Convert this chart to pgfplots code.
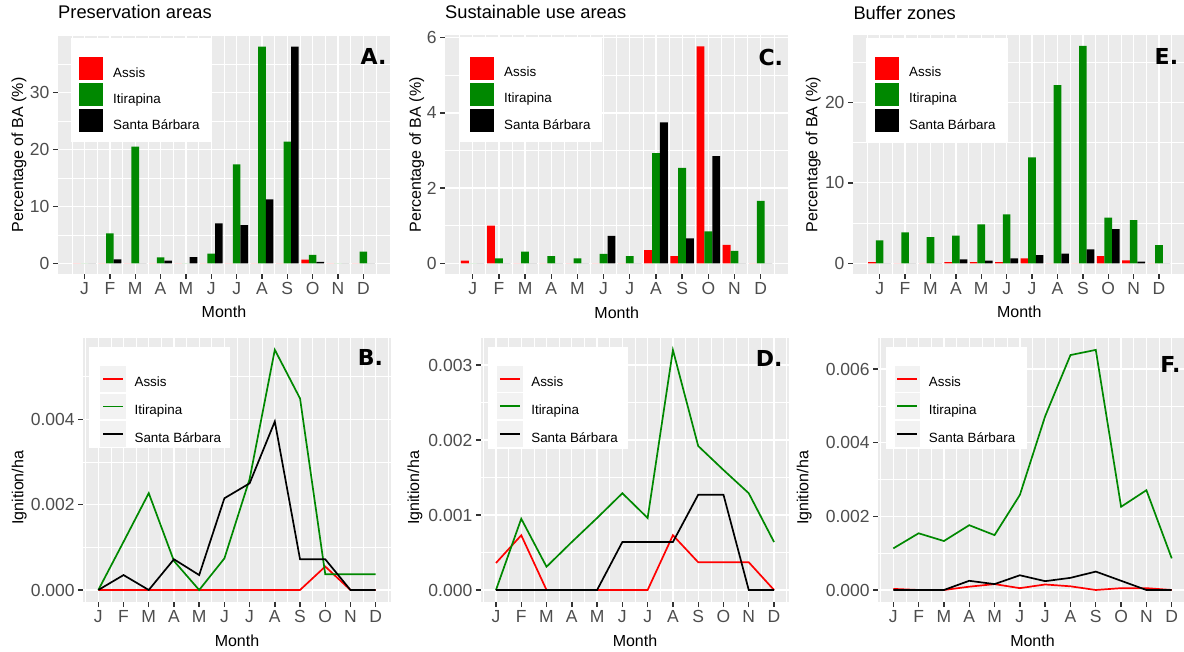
\documentclass[border=0pt]{standalone}
\usepackage{fontspec}
\setmainfont{Liberation Sans}
\newfontfamily\panelfont{DejaVu Sans}
\usepackage{pgfplots}
\usepackage{pgfplotstable}
\pgfplotsset{compat=1.18}
\definecolor{ggbg}{HTML}{EBEBEB}
\definecolor{ggkey}{HTML}{F2F2F2}
\definecolor{ggtext}{HTML}{4D4D4D}
\definecolor{ggtick}{HTML}{333333}
\definecolor{ggred}{HTML}{FF0000}
\definecolor{gggreen}{HTML}{008800}
\definecolor{ggblack}{HTML}{000000}

% Percentage of burned area (bars)
\pgfplotstableread{
m r g b
1 0 0 0
2 0 5.27 0.7
3 0 20.5 0
4 0 1.05 0.46
5 0 0 1.1
6 0 1.7 7.0
7 0 17.4 6.7
8 0 38.1 11.25
9 0 21.4 38.1
10 0.65 1.46 0.23
11 0 0 0
12 0 2.04 0
}\tabA
\pgfplotstableread{
m r g b
1 0.07 0 0
2 1.0 0.13 0
3 0 0.31 0
4 0 0.19 0
5 0 0.13 0
6 0 0.25 0.73
7 0 0.19 0
8 0.35 2.93 3.75
9 0.19 2.54 0.66
10 5.77 0.85 2.85
11 0.49 0.33 0
12 0 1.66 0
}\tabC
\pgfplotstableread{
m r g b
1 0.16 2.85 0
2 0 3.85 0
3 0 3.27 0
4 0.16 3.43 0.5
5 0.16 4.84 0.33
6 0.16 6.09 0.62
7 0.62 13.17 1.03
8 0 22.15 1.2
9 0 27.0 1.74
10 0.91 5.67 4.26
11 0.37 5.38 0.2
12 0 2.27 0
}\tabE
% Ignitions per hectare (lines)
\pgfplotstableread{
m r g b
1 0 0 0
2 0 0.00113 0.00035
3 0 0.00227 0
4 0 0.00068 0.00072
5 0 0 0.00035
6 0 0.00074 0.00215
7 0 0.0026 0.0025
8 0 0.00563 0.00395
9 0 0.00449 0.00072
10 0.00055 0.00037 0.00072
11 0 0.00037 0
12 0 0.00037 0
}\tabB
\pgfplotstableread{
m r g b
1 0.00036 0 0
2 0.00073 0.00095 0
3 0 0.00031 0
4 0 0.00064 0
5 0 0.00096 0
6 0 0.00129 0.00064
7 0 0.00096 0.00064
8 0.00073 0.0032 0.00064
9 0.00037 0.00192 0.00127
10 0.00037 0.0016 0.00127
11 0.00037 0.00129 0
12 0 0.00064 0
}\tabD
\pgfplotstableread{
m r g b
1 0.00003 0.00113 0
2 0 0.00154 0
3 0 0.00133 0
4 0.00009 0.00176 0.00025
5 0.00016 0.00149 0.00016
6 0.00005 0.00258 0.0004
7 0.00015 0.00472 0.00024
8 0.0001 0.00638 0.00033
9 0 0.00652 0.0005
10 0.00005 0.00226 0.00025
11 0.00005 0.00271 0
12 0 0.00086 0
}\tabF

\pgfplotsset{
  gg/.style={
    scale only axis,
    axis background/.style={fill=ggbg},
    axis line style={draw opacity=0},
    tick pos=left,
    tick align=outside,
    major tick length=5pt,
    minor tick length=0pt,
    every major tick/.append style={draw=ggtick, draw opacity=1, line width=1.4pt},
    grid=both,
    major grid style={draw=white, line width=1.3pt},
    minor grid style={draw=white, line width=0.6pt},
    xtick={1,2,...,12},
    xticklabels={J,F,M,A,M,J,J,A,S,O,N,D},
    minor xtick={0.5,1.5,...,12.5},
    scaled y ticks=false,
    xticklabel style={font=\fontsize{17.5}{18}\selectfont, text=ggtext},
    yticklabel style={font=\fontsize{17.5}{18}\selectfont, text=ggtext},
    xlabel style={font=\fontsize{16}{16}\selectfont, anchor=base, inner sep=0pt},
    ylabel style={font=\fontsize{16}{16}\selectfont, anchor=center, inner sep=0pt},
    title style={font=\fontsize{18.3}{18}\selectfont, anchor=base west, inner sep=0pt},
    legend cell align=left,
  },
  bars/.style={gg, xmin=-0.05, xmax=13.05,
    legend style={anchor=north west, draw=none, fill=none, inner sep=0pt,
      row sep=3pt, column sep=10pt, nodes={inner sep=0pt},
      font=\fontsize{13.4}{14}\selectfont}},
  lines/.style={gg, xmin=0.4, xmax=12.6,
    legend style={anchor=north west, draw=none, fill=none, inner sep=0pt,
      row sep=1.8pt, column sep=8.7pt, nodes={inner sep=0pt},
      font=\fontsize{13.4}{14}\selectfont}},
  barkey/.style={legend image code/.code={\fill[##1] (0pt,-7pt) rectangle (24pt,16pt);}},
  linekey/.style={legend image code/.code={\fill[ggkey] (0pt,-8pt) rectangle (24pt,16pt); \draw[##1] (2pt,4pt) -- (22pt,4pt);}},
}
\newcommand{\panellabel}[3]{\node[anchor=base east, inner sep=0pt, font=\panelfont\bfseries\fontsize{22}{22}\selectfont] at (rel axis cs:#1,#2) {#3};}

\begin{document}
\begin{tikzpicture}
\path[use as bounding box] (0pt,0pt) rectangle (1184pt,651pt);

% ---------- A ----------
\begin{axis}[bars, at={(57.9pt,376.9pt)}, anchor=south west, width=332.1pt, height=238.3pt,
  ymin=-1.905, ymax=40.0, ytick={0,10,20,30}, yticklabels={0,10,20,30}, minor ytick={5,15,25,35},
  title={Preservation areas}, title style={at={(axis description cs:0.0003,1.0453)}},
  xlabel={Month}, xlabel style={at={(axis description cs:0.5,-0.1842)}},
  ylabel={Percentage of BA (\%)}, ylabel style={at={(axis description cs:-0.1171,0.5)}},
  legend style={at={(rel axis cs:0.0635,0.9123)}}]
\addplot[ybar, bar width=0.3, bar shift=-0.3, fill=ggred, draw=none, barkey] table[x=m,y=r]{\tabA};
\addplot[ybar, bar width=0.3, bar shift=0, fill=gggreen, draw=none, barkey] table[x=m,y=g]{\tabA};
\addplot[ybar, bar width=0.3, bar shift=0.3, fill=ggblack, draw=none, barkey] table[x=m,y=b]{\tabA};
\fill[white] (rel axis cs:0.0385,0.5556) rectangle (rel axis cs:0.4631,0.9895);
\panellabel{0.9901}{0.8775}{A.}
\legend{Assis,Itirapina,Santa Bárbara}
\end{axis}

% ---------- C ----------
\begin{axis}[bars, at={(445.2pt,376.9pt)}, anchor=south west, width=343pt, height=238.6pt,
  ymin=-0.2885, ymax=6.0585, ytick={0,2,4,6}, yticklabels={0,2,4,6}, minor ytick={1,3,5},
  title={Sustainable use areas}, title style={at={(axis description cs:-0.0006,1.044)}},
  xlabel={Month}, xlabel style={at={(axis description cs:0.5,-0.184)}},
  ylabel={Percentage of BA (\%)}, ylabel style={at={(axis description cs:-0.0831,0.5)}},
  legend style={at={(rel axis cs:0.0723,0.9112)}}]
\addplot[ybar, bar width=0.3, bar shift=-0.3, fill=ggred, draw=none, barkey] table[x=m,y=r]{\tabC};
\addplot[ybar, bar width=0.3, bar shift=0, fill=gggreen, draw=none, barkey] table[x=m,y=g]{\tabC};
\addplot[ybar, bar width=0.3, bar shift=0.3, fill=ggblack, draw=none, barkey] table[x=m,y=b]{\tabC};
\fill[white] (rel axis cs:0.0431,0.5549) rectangle (rel axis cs:0.4563,0.995);
\panellabel{0.9857}{0.8761}{C.}
\legend{Assis,Itirapina,Santa Bárbara}
\end{axis}

% ---------- E ----------
\begin{axis}[bars, at={(853pt,376.8pt)}, anchor=south west, width=332.7pt, height=239.1pt,
  ymin=-1.35, ymax=28.35, ytick={0,10,20}, yticklabels={0,10,20}, minor ytick={5,15,25},
  title={Buffer zones}, title style={at={(axis description cs:0.0009,1.0422)}},
  xlabel={Month}, xlabel style={at={(axis description cs:0.5,-0.1832)}},
  ylabel={Percentage of BA (\%)}, ylabel style={at={(axis description cs:-0.1193,0.5)}},
  legend style={at={(rel axis cs:0.0661,0.9097)}}]
\addplot[ybar, bar width=0.3, bar shift=-0.3, fill=ggred, draw=none, barkey] table[x=m,y=r]{\tabE};
\addplot[ybar, bar width=0.3, bar shift=0, fill=gggreen, draw=none, barkey] table[x=m,y=g]{\tabE};
\addplot[ybar, bar width=0.3, bar shift=0.3, fill=ggblack, draw=none, barkey] table[x=m,y=b]{\tabE};
\fill[white] (rel axis cs:0.0391,0.5542) rectangle (rel axis cs:0.4668,0.9866);
\panellabel{0.9778}{0.875}{E.}
\legend{Assis,Itirapina,Santa Bárbara}
\end{axis}

% ---------- B ----------
\begin{axis}[lines, at={(83.2pt,49pt)}, anchor=south west, width=307.6pt, height=264.2pt,
  ymin=-0.0002815, ymax=0.0059115, ytick={0,0.002,0.004}, yticklabels={0.000,0.002,0.004},
  minor ytick={0.001,0.003,0.005},
  xlabel={Month}, xlabel style={at={(axis description cs:0.5,-0.1692)}},
  ylabel={Ignition/ha}, ylabel style={at={(axis description cs:-0.2081,0.432)}},
  legend style={at={(rel axis cs:0.0546,0.894)}}]
\fill[white] (rel axis cs:0.0198,0.5818) rectangle (rel axis cs:0.4772,0.9663);
\addplot[ggred, line width=1.7pt, linekey] table[x=m,y=r]{\tabB};
\addplot[gggreen, line width=1.7pt, linekey] table[x=m,y=g]{\tabB};
\addplot[ggblack, line width=1.7pt, linekey] table[x=m,y=b]{\tabB};
\panellabel{0.9756}{0.897}{B.}
\legend{Assis,Itirapina,Santa Bárbara}
\end{axis}

% ---------- D ----------
\begin{axis}[lines, at={(480.8pt,49pt)}, anchor=south west, width=308.4pt, height=264pt,
  ymin=-0.00016, ymax=0.00336, ytick={0,0.001,0.002,0.003}, yticklabels={0.000,0.001,0.002,0.003},
  minor ytick={0.0005,0.0015,0.0025},
  xlabel={Month}, xlabel style={at={(axis description cs:0.5,-0.1692)}},
  ylabel={Ignition/ha}, ylabel style={at={(axis description cs:-0.2134,0.432)}},
  legend style={at={(rel axis cs:0.0516,0.8947)}}]
\fill[white] (rel axis cs:0.0224,0.5784) rectangle (rel axis cs:0.4783,0.967);
\addplot[ggred, line width=1.7pt, linekey] table[x=m,y=r]{\tabD};
\addplot[gggreen, line width=1.7pt, linekey] table[x=m,y=g]{\tabD};
\addplot[ggblack, line width=1.7pt, linekey] table[x=m,y=b]{\tabD};
\panellabel{0.9789}{0.8913}{D.}
\legend{Assis,Itirapina,Santa Bárbara}
\end{axis}

% ---------- F ----------
\begin{axis}[lines, at={(878.1pt,49pt)}, anchor=south west, width=308.8pt, height=264.1pt,
  ymin=-0.000326, ymax=0.006846, ytick={0,0.002,0.004,0.006}, yticklabels={0.000,0.002,0.004,0.006},
  minor ytick={0.001,0.003,0.005},
  xlabel={Month}, xlabel style={at={(axis description cs:0.5,-0.1692)}},
  ylabel={Ignition/ha}, ylabel style={at={(axis description cs:-0.2393,0.432)}},
  legend style={at={(rel axis cs:0.0525,0.8944)}}]
\fill[white] (rel axis cs:0.0246,0.5782) rectangle (rel axis cs:0.4812,0.9667);
\addplot[ggred, line width=1.7pt, linekey] table[x=m,y=r]{\tabF};
\addplot[gggreen, line width=1.7pt, linekey] table[x=m,y=g]{\tabF};
\addplot[ggblack, line width=1.7pt, linekey] table[x=m,y=b]{\tabF};
\panellabel{0.98}{0.8682}{F.}
\legend{Assis,Itirapina,Santa Bárbara}
\end{axis}
\end{tikzpicture}
\end{document}
